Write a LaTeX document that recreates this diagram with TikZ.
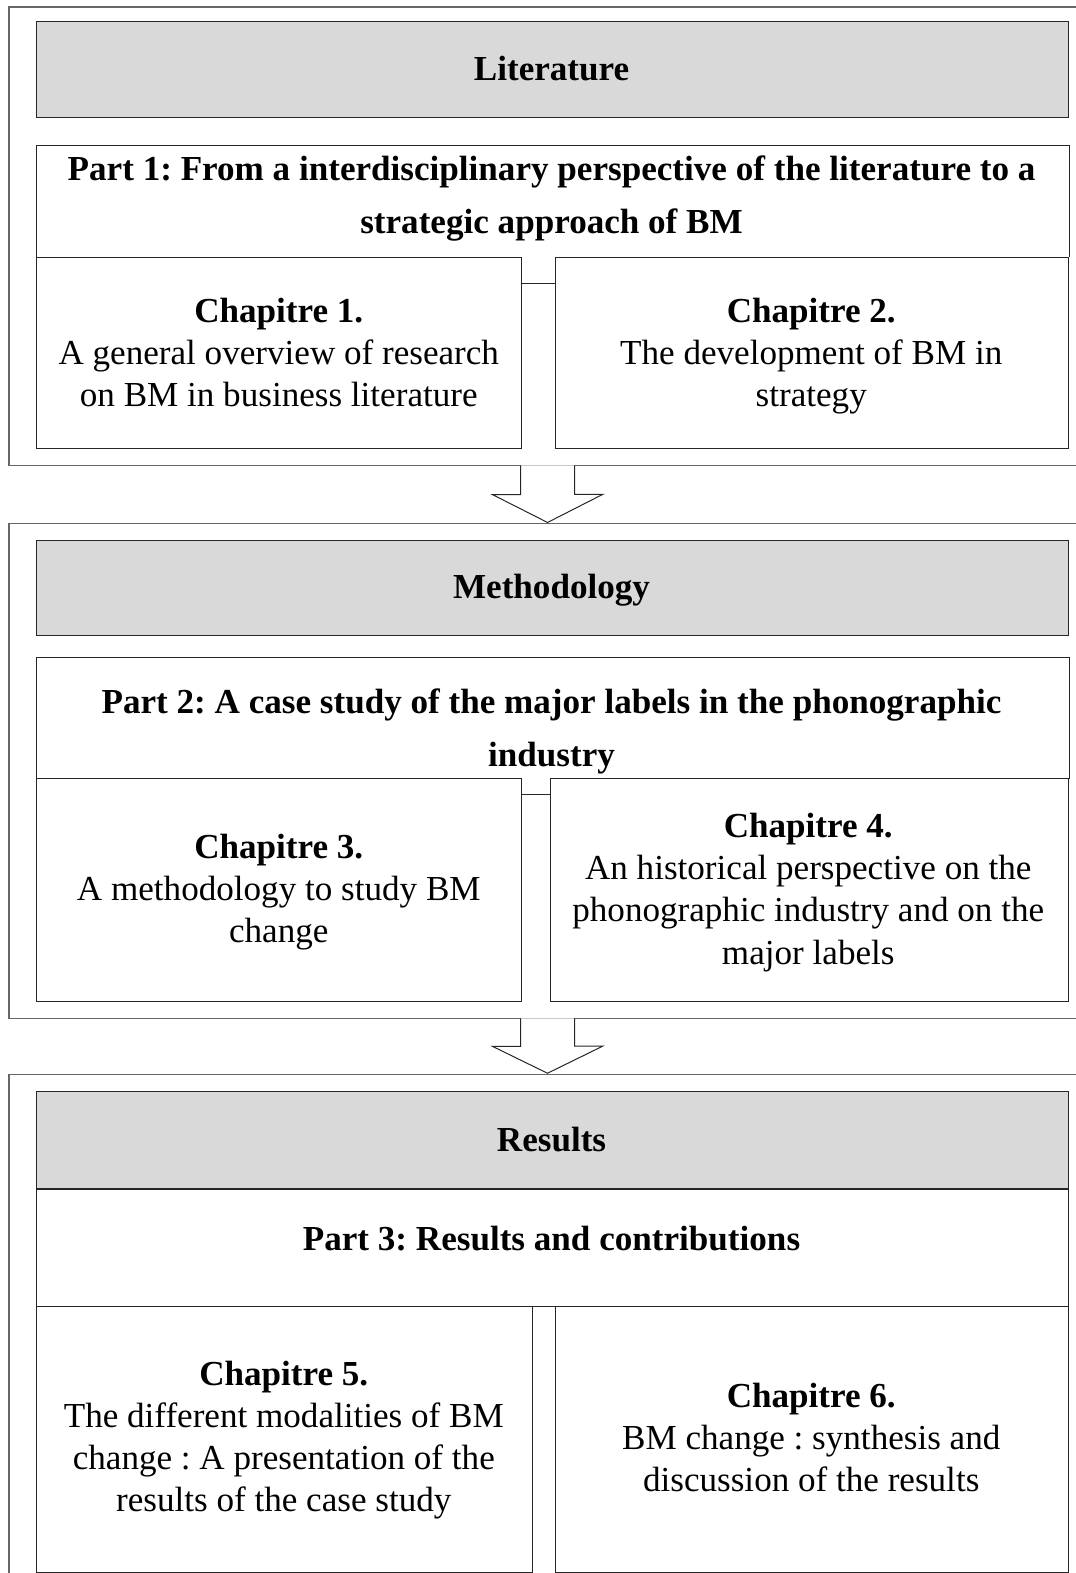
\documentclass[tikz,border=0pt]{standalone}
\usepackage{fontspec}
\setmainfont{Liberation Serif}
\frenchspacing
\begin{document}
\begin{tikzpicture}[x=1.0028pt,y=-1.0032pt,
  frame/.style={draw=black!60, line width=1.4pt},
  box/.style={draw=black!85, line width=1pt, inner sep=0pt, anchor=north west},
  title/.style={box, fill=black!15},
  ttext/.style={inner sep=0pt, align=center, font=\bfseries\fontsize{35.1}{42.1}\selectfont},
  ctext/.style={inner sep=0pt, align=center, font=\fontsize{35.1}{42.1}\selectfont},
  ptext/.style={inner sep=0pt, align=center, font=\bfseries\fontsize{35.1}{53.2}\selectfont},
  arrowshape/.style={draw=black!85, line width=1pt}]
\useasboundingbox (0,0) rectangle (1073,1568);
% outer frames
\draw[frame] (1080,7) -- (9,7) -- (9,464) -- (1080,464);
\draw[frame] (1080,522) -- (9,522) -- (9,1015) -- (1080,1015);
\draw[frame] (1080,1071) -- (9,1071) -- (9,1580);
% ---------- Literature ----------
\node[title, minimum width=1032, minimum height=96.3] (lit) at (36,21) {};
\node[ttext] (litt) at (550,71.6) {\strut Literature};
\node[box, draw=none, minimum width=1032, minimum height=110.3] (p1) at (36,145) {};
\draw[box] (p1.south west) |- (p1.north east) -- (p1.south east);
\node[ptext] (p1t) at (550,196) {\strut Part 1: From a interdisciplinary perspective of the literature to a\\\strut strategic approach of BM};
\node[box, minimum width=485.4, minimum height=191.6] (c1) at (36,256) {};
\node[ctext] (c1t) at (278,354.6) {\strut\textbf{Chapitre 1.}\\\strut A general overview of research\\\strut on BM in business literature};
\node[box, minimum width=513.4, minimum height=191.6] (c2) at (553,256) {};
\node[ctext] (c2t) at (809,354.6) {\strut\textbf{Chapitre 2.}\\\strut The development of BM in\\\strut strategy};
\coordinate (k1) at (0,283);
\draw[box] (c1.east |- k1) -- (c2.west |- k1);
% arrow 1
\coordinate (a1) at (546,464);
\fill[white] ([xshift=-27pt]a1) -- ++(0,29) -- ++(-28,0) -- ([yshift=-57pt]a1) -- ++(55,-28) -- ++(-28,0) -- ([xshift=27pt]a1) -- cycle;
\draw[arrowshape] ([xshift=-27pt]a1) -- ++(0,29) -- ++(-28,0) -- ([yshift=-57pt]a1) -- ++(55,-28) -- ++(-28,0) -- ([xshift=27pt]a1);
% ---------- Methodology ----------
\node[title, minimum width=1032, minimum height=95.3] (meth) at (36,538) {};
\node[ttext] (metht) at (550,588.6) {\strut Methodology};
\node[box, draw=none, minimum width=1032, minimum height=121.4] (p2) at (36,655) {};
\draw[box] (p2.south west) |- (p2.north east) -- (p2.south east);
\node[ptext] (p2t) at (550,727) {\strut Part 2: A case study of the major labels in the phonographic\\\strut industry};
\node[box, minimum width=485.4, minimum height=222.7] (c3) at (36,776) {};
\node[ctext] (c3t) at (278,889.6) {\strut\textbf{Chapitre 3.}\\\strut A methodology to study BM\\\strut change};
\node[box, minimum width=518.4, minimum height=222.7] (c4) at (548,776) {};
\node[ctext] (c4t) at (806,889.6) {\strut\textbf{Chapitre 4.}\\\strut An historical perspective on the\\\strut phonographic industry and on the\\\strut major labels};
\coordinate (k2) at (0,792);
\draw[box] (c3.east |- k2) -- (c4.west |- k2);
% arrow 2
\coordinate (a2) at (546,1015);
\fill[white] ([xshift=-27pt]a2) -- ++(0,28) -- ++(-28,0) -- ([yshift=-55pt]a2) -- ++(55,-27) -- ++(-28,0) -- ([xshift=27pt]a2) -- cycle;
\draw[arrowshape] ([xshift=-27pt]a2) -- ++(0,28) -- ++(-28,0) -- ([yshift=-55pt]a2) -- ++(55,-27) -- ++(-28,0) -- ([xshift=27pt]a2);
% ---------- Results ----------
\node[title, minimum width=1032, minimum height=96.3] (res) at (36,1088) {};
\node[ttext] (rest) at (550,1139.6) {\strut Results};
\node[box, minimum width=1032, minimum height=117.4] (p3) at (36,1185) {};
\node[ptext] (p3t) at (550,1236.4) {\strut Part 3: Results and contributions};
\node[box, minimum width=496.4, minimum height=265.9] (c5) at (36,1302) {};
\node[ctext] (c5t) at (283,1435.6) {\strut\textbf{Chapitre 5.}\\\strut The different modalities of BM\\\strut change : A presentation of the\\\strut results of the case study};
\node[box, minimum width=513.4, minimum height=265.9] (c6) at (553,1302) {};
\node[ctext] (c6t) at (809,1436.6) {\strut\textbf{Chapitre 6.}\\\strut BM change : synthesis and\\\strut discussion of the results};
\end{tikzpicture}
\end{document}
